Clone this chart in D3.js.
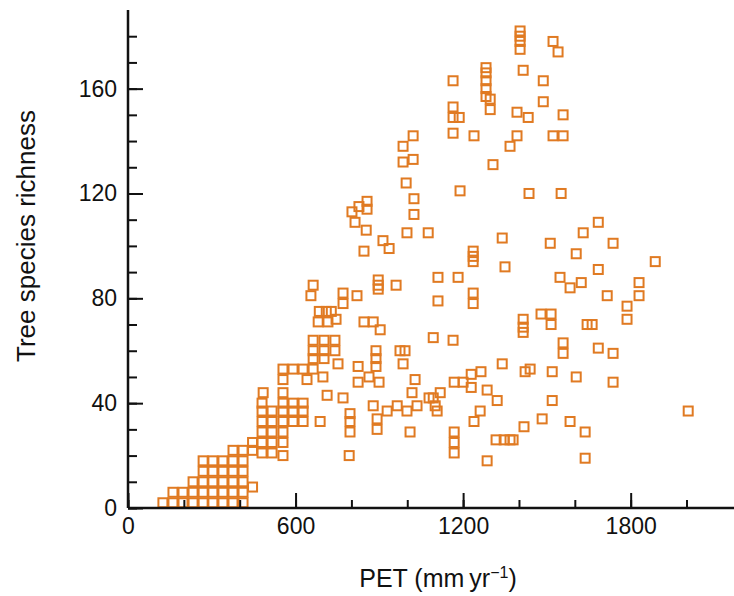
<!DOCTYPE html>
<html><head><meta charset="utf-8">
<script src="https://cdn.jsdelivr.net/npm/d3@7"></script>
<style>body{margin:0;background:#fff}svg{display:block}</style>
</head><body>
<svg id="chart" width="734" height="596"></svg>
<script>
// PET (mm/yr) and tree species richness
const pet = [
 125,161,161,197,197,233,233,233,
 269,269,269,269,269, 304,304,304,304,304, 340,340,340,340,340,
 376,376,376,376,376,376, 412,412,412,412,412,412,
 446,446,446, 480,480,480,480,480,480,484,
 516,516,516,516,516,
 555,555,555,555,555,555,555,555,555,
 591,591,591,591, 627,627,627,627, 641,
 663,663,663,663, 702,702,702, 741,741,
 752,698,688,713,770, 795,795,795,792,
 824,824,863, 888,888,888, 899, 974,992,985,
 1028,1017,1078,1100,1093, 878,928,964,999,1035, 892,892,1010,
 663,655,770,770,820, 896,896,896,960,1110,1110,
 685,710,728,681,716,745, 845,878,903,
 1164,1558,1558,1684,1340,1422,1440,1519,1605,
 1168,1200,1229,1229,1264,1286,1322,
 1118,1093,1107,1261,1239,1519,1483,1418,1583,1637,1637,
 1168,1168,1168,1318,1347,1368,1379,1286,
 1189,1436,1551,1340,1512,1630,1605,
 1236,1236,1236,1350,1182,1547,1583,1623,
 1236,1236,1415,1415,1415,1479,1515,1515,1644,1075,
 1164,1164,1186,1393,1433,1164,1239,1393,1368,1307,
 1021,985,1021,985,996,1024,1024,999, 913,935,
 802,827,856,856,813,853,845,
 1404,1404,1404,1404,1522,1540,1415,1487,1487,1558,1522,1558,1164,
 1282,1282,1282,1282,1282,1297,1297,
 1684,1737,1888,1684,1830,1830,1716,1787,1787,1662,1737,1737,2006
];
const richness = [
 2,2,6,2,6,2,6,10,
 2,6,10,14,18, 2,6,10,14,18, 2,6,10,14,18,
 2,6,10,14,18,22, 2,6,10,14,18,22,
 8,22,25, 21,25,29,33,37,40,44,
 21,25,29,33,37,
 20,25,29,33,37,40,44,49,53,
 33,37,40,53, 33,37,40,53, 49,
 53,57,60,64, 57,60,64, 60,64,
 55,50,33,43,42, 36,33,29,20,
 54,48,50, 60,57,54, 48, 60,60,55,
 49,44,42,39,65, 39,37,39,37,39, 34,30,29,
 85,81,82,78,81, 87,85,83.5,85,88,79,
 75,75,75,71,71,72, 71,71,68,
 64,63,59,61,55,52,53,52,50,
 48,48,51,46,52,45,41,
 44,42,37,37,33,41,34,31,33,29,19,
 29,25,21,26,26,26,26,18,
 121,120,120,103,101,105,97,
 98,96,94,92,88,88,84,86,
 82,78,72,69,67,74,74,70,70,105,
 153,149,149,151,149,143,142,142,138,131,
 142,138,133,132,124,118,112,105, 102,99,
 113,115,117,114,109,106,98,
 182,180,178,175,178,174,167,163,155,150,142,142,163,
 168,166,163,160,157,156,152,
 109,101,94,91,86,81,81,77,72,70,59,48,37
];
const xTicks = [0,200,400,600,800,1000,1200,1400,1600,1800,2000];
const xTickLabels = [0,600,1200,1800];
const yTicks = [0,10,20,30,40,50,60,70,80,90,100,110,120,130,140,150,160,170,180];
const yTickLabels = [0,40,80,120,160];

const svg = d3.select("#chart");
const x = d3.scaleLinear().domain([0, 2170]).range([128, 734]);
const y = d3.scaleLinear().domain([0, 190]).range([508, 10]);
const color = "#e07a22";
const font = "'Liberation Sans', Arial, Helvetica, sans-serif";

// points
const s = 9;
svg.append("g").selectAll("rect")
  .data(d3.range(pet.length))
  .join("rect")
  .attr("x", i => x(pet[i]) - s/2)
  .attr("y", i => y(richness[i]) - s/2)
  .attr("width", s).attr("height", s)
  .attr("fill", "none")
  .attr("stroke", color)
  .attr("stroke-width", 2);

// minor ticks
svg.append("g").attr("transform", `translate(0,${y(0)})`)
  .call(d3.axisBottom(x).tickValues(xTicks).tickSize(-8).tickFormat(""))
  .call(g => g.select(".domain").remove())
  .call(g => g.selectAll("line").attr("stroke", "#111").attr("stroke-width", 2));
svg.append("g").attr("transform", `translate(${x(0)},0)`)
  .call(d3.axisLeft(y).tickValues(yTicks).tickSize(-9).tickFormat(""))
  .call(g => g.select(".domain").remove())
  .call(g => g.selectAll("line").attr("stroke", "#111").attr("stroke-width", 2));

// major ticks with labels
svg.append("g").attr("transform", `translate(0,${y(0)})`)
  .call(d3.axisBottom(x).tickValues(xTickLabels).tickSize(-15).tickPadding(10).tickFormat(d3.format("d")))
  .call(g => g.select(".domain").remove())
  .call(g => g.selectAll("line").attr("stroke", "#111").attr("stroke-width", 2))
  .call(g => g.selectAll("text").attr("font-family", font).attr("font-size", 23).attr("fill", "#111"));
svg.append("g").attr("transform", `translate(${x(0)},0)`)
  .call(d3.axisLeft(y).tickValues(yTickLabels).tickSize(-15).tickPadding(11).tickFormat(d3.format("d")))
  .call(g => g.select(".domain").remove())
  .call(g => g.selectAll("line").attr("stroke", "#111").attr("stroke-width", 2))
  .call(g => g.selectAll("text").attr("font-family", font).attr("font-size", 23).attr("fill", "#111"));

// axis lines
svg.append("line").attr("x1", x(0)).attr("x2", 734).attr("y1", y(0)).attr("y2", y(0))
  .attr("stroke", "#111").attr("stroke-width", 2.5);
svg.append("line").attr("x1", x(0)).attr("x2", x(0)).attr("y1", y(0)).attr("y2", 10)
  .attr("stroke", "#111").attr("stroke-width", 2.5);

// titles
svg.append("text")
  .attr("transform", "translate(35,236) rotate(-90)")
  .attr("text-anchor", "middle")
  .attr("font-family", font).attr("font-size", 26).attr("fill", "#111")
  .text("Tree species richness");
const xt = svg.append("text")
  .attr("x", 438).attr("y", 587)
  .attr("text-anchor", "middle")
  .attr("font-family", font).attr("font-size", 25).attr("fill", "#111");
xt.append("tspan").text("PET (mm\u2009yr");
xt.append("tspan").attr("dy", -9).attr("font-size", 16).text("\u22121");
xt.append("tspan").attr("dy", 9).text(")");
</script>
</body></html>
